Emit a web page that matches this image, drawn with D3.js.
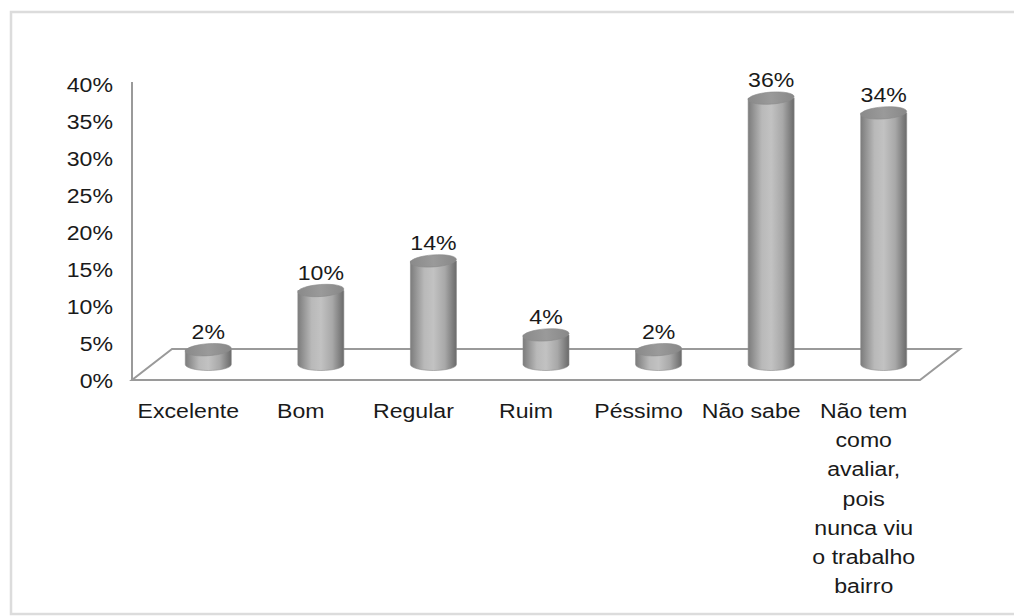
<!DOCTYPE html>
<html><head><meta charset="utf-8">
<script src="https://cdn.jsdelivr.net/npm/d3@7/dist/d3.min.js"></script>
<style>body{margin:0;background:#fff}svg{display:block}text{font-family:"Liberation Sans",Arial,sans-serif;fill:#1a1a1a}</style>
</head><body><svg id="c" width="1014" height="616"></svg>
<script>
const categories = ["Excelente","Bom","Regular","Ruim","Péssimo","Não sabe","Não tem como avaliar, pois nunca viu o trabalho bairro"];
const categoryLines = [["Excelente"],["Bom"],["Regular"],["Ruim"],["Péssimo"],["Não sabe"],["Não tem","como","avaliar,","pois","nunca viu","o trabalho","bairro"]];
const values = [2,10,14,4,2,36,34];
const valueLabels = ["2%","10%","14%","4%","2%","36%","34%"];
const yTicks = [0,5,10,15,20,25,30,35,40];
const yTickLabels = ["0%","5%","10%","15%","20%","25%","30%","35%","40%"];

const svg = d3.select("#c");
const FS = 21, SX = 1.1;
const depthX = 40, depthY = -31;
const x = d3.scaleBand().domain(categories).range([132, 920]).padding(0);
const y = d3.scaleLinear().domain([0, 40]).range([380, 84]);

// border
svg.append("rect").attr("x",11).attr("y",12).attr("width",1020).attr("height",602)
  .attr("fill","none").attr("stroke","#dcdcdc").attr("stroke-width",2.5);

const defs = svg.append("defs");
const g1 = defs.append("linearGradient").attr("id","cyl").attr("x1","0").attr("x2","1").attr("y1","0").attr("y2","0");
[["0%","#7c7c7c"],["30%","#b9b9b9"],["50%","#c2c2c2"],["75%","#a8a8a8"],["100%","#6a6a6a"]].forEach(s=>g1.append("stop").attr("offset",s[0]).attr("stop-color",s[1]));
const g2 = defs.append("linearGradient").attr("id","topg").attr("x1","0").attr("x2","1").attr("y1","0").attr("y2","0");
[["0%","#8a8a8a"],["50%","#9a9a9a"],["100%","#888888"]].forEach(s=>g2.append("stop").attr("offset",s[0]).attr("stop-color",s[1]));

// floor
const x0 = x.range()[0], x1 = x.range()[1], y0 = y(0);
svg.append("path")
  .attr("d", `M${x0},${y0} L${x1},${y0} L${x1+depthX},${y0+depthY} L${x0+depthX},${y0+depthY} Z`)
  .attr("fill","#fff").attr("stroke","#9a9a9a").attr("stroke-width",2);
// axis line
svg.append("line").attr("x1",x0).attr("x2",x0).attr("y1",y0).attr("y2",y(40)-2)
  .attr("stroke","#9a9a9a").attr("stroke-width",2);

// y tick labels
svg.append("g").selectAll("text").data(yTicks).join("text")
  .attr("transform", (d)=>`translate(113,${y(d)}) scale(${SX},1)`)
  .attr("dy","0.36em").attr("text-anchor","end").attr("font-size",FS)
  .text((d,i)=>yTickLabels[i]);

// cylinders
const rx = 23, ry = 6;
const bars = svg.append("g").selectAll("g").data(values).join("g");
bars.each(function(v,i){
  const g = d3.select(this);
  const cx = x(categories[i]) + x.bandwidth()/2 + depthX/2;
  const by = y(0) + depthY/2;
  const ty = y(v) + depthY/2;
  g.append("path")
    .attr("d", `M${cx-rx},${ty} L${cx-rx},${by} A${rx},${ry} 0 0 0 ${cx+rx},${by} L${cx+rx},${ty} Z`)
    .attr("fill","url(#cyl)").attr("stroke","#8a8a8a").attr("stroke-width",0.6);
  g.append("ellipse").attr("cx",cx).attr("cy",ty).attr("rx",rx).attr("ry",ry)
    .attr("transform",`rotate(-4,${cx},${ty})`)
    .attr("fill","url(#topg)").attr("stroke","#8a8a8a").attr("stroke-width",0.6);
  g.append("text").attr("transform",`translate(${cx},${ty-11}) scale(${SX},1)`)
    .attr("text-anchor","middle").attr("font-size",FS).text(valueLabels[i]);
});

// x labels
const xl = svg.append("g").selectAll("g").data(categories).join("g");
xl.each(function(c,i){
  const cx = x(c) + x.bandwidth()/2;
  d3.select(this).selectAll("text").data(categoryLines[i]).join("text")
    .attr("transform",(d,j)=>`translate(${cx},${418 + j*29.2}) scale(${SX},1)`)
    .attr("text-anchor","middle").attr("font-size",FS).text(d=>d);
});
</script></body></html>
